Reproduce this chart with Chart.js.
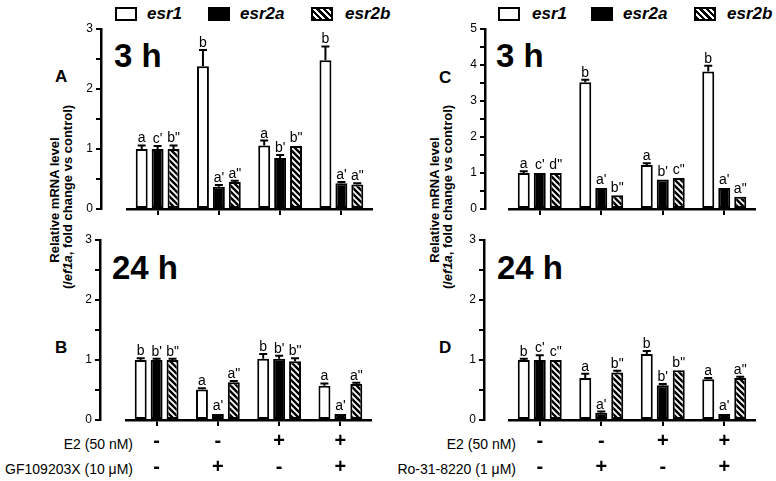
<!DOCTYPE html>
<html><head><meta charset="utf-8">
<script src="https://cdn.jsdelivr.net/npm/chart.js@4.4.1/dist/chart.umd.min.js"></script>
<style>
html,body{margin:0;padding:0;background:#fff;}
body{width:776px;height:481px;position:relative;overflow:hidden;font-family:'Liberation Sans',Arial,sans-serif;color:#000;}
.abs{position:absolute;white-space:nowrap;line-height:1;}
.box{position:absolute;box-sizing:border-box;border:2px solid #000;width:22px;height:14px;}
.leg{font-size:17px;font-weight:bold;font-style:italic;}
.big{font-size:33px;font-weight:bold;}
.let{font-size:17px;font-weight:bold;}
.yt{position:absolute;white-space:nowrap;line-height:1;font-size:13px;font-weight:bold;transform:translate(-50%,-50%) rotate(-90deg);}
.xl{font-size:14px;text-align:right;}
canvas{position:absolute;}
</style></head>
<body>
<!-- legends -->
<div class="box" style="left:115px;top:7px;background:#fff"></div>
<div class="abs leg" style="left:147px;top:5px">esr1</div>
<div class="box" style="left:208px;top:7px;background:#000"></div>
<div class="abs leg" style="left:240px;top:5px">esr2a</div>
<div class="box" style="left:311px;top:7px;background:repeating-linear-gradient(45deg,#000 0 2.5px,#fff 2.5px 4.5px)"></div>
<div class="abs leg" style="left:345px;top:5px">esr2b</div>

<div class="box" style="left:498px;top:7px;background:#fff"></div>
<div class="abs leg" style="left:532px;top:5px">esr1</div>
<div class="box" style="left:591px;top:7px;background:#000"></div>
<div class="abs leg" style="left:623px;top:5px">esr2a</div>
<div class="box" style="left:694px;top:7px;background:repeating-linear-gradient(45deg,#000 0 2.5px,#fff 2.5px 4.5px)"></div>
<div class="abs leg" style="left:727px;top:5px">esr2b</div>

<!-- titles -->
<div class="abs big" style="left:114px;top:39px">3 h</div>
<div class="abs big" style="left:496px;top:39px">3 h</div>
<div class="abs big" style="left:112px;top:251px">24 h</div>
<div class="abs big" style="left:497px;top:251px">24 h</div>
<div class="abs let" style="left:55px;top:68px">A</div>
<div class="abs let" style="left:55px;top:339px">B</div>
<div class="abs let" style="left:439px;top:69px">C</div>
<div class="abs let" style="left:439px;top:339px">D</div>

<div class="yt" style="left:54px;top:200px">Relative mRNA level</div>
<div class="yt" style="left:67px;top:197px">(/<i>ef1a</i>, fold change vs control)</div>
<div class="yt" style="left:434px;top:200px">Relative mRNA level</div>
<div class="yt" style="left:447px;top:197px">(/<i>ef1a</i>, fold change vs control)</div>

<div class="abs xl" style="right:643px;top:437px">E2 (50 nM)</div>
<div class="abs xl" style="right:643px;top:462px">GF109203X (10 μM)</div>
<div class="abs xl" style="right:260px;top:437px">E2 (50 nM)</div>
<div class="abs xl" style="right:260px;top:462px">Ro-31-8220 (1 μM)</div>

<canvas id="cA"></canvas>
<canvas id="cB"></canvas>
<canvas id="cC"></canvas>
<canvas id="cD"></canvas>

<script>
// ---------- data ----------
const seriesNames = ['esr1', 'esr2a', 'esr2b'];
const groups = ['Control', 'Inhibitor', 'E2', 'E2 + Inhibitor'];
const xTickLabels = [['-', '-'], ['-', '+'], ['+', '-'], ['+', '+']];

// Panel A: GF109203X, 3 h
const A_esr1 = [1.00, 2.38, 1.06, 2.48];
const A_esr2a = [1.00, 0.37, 0.85, 0.43];
const A_esr2b = [1.00, 0.45, 1.05, 0.41];
const A_err1 = [0.06, 0.27, 0.08, 0.23];
const A_err2a = [0.05, 0.03, 0.05, 0.02];
const A_err2b = [0.06, 0.02, 0.01, 0.02];
const A_let1 = ['a', 'b', 'a', 'b'];
const A_let2a = ["c'", "a'", "b'", "a'"];
const A_let2b = ['b"', 'a"', 'b"', 'a"'];

// Panel B: GF109203X, 24 h
const B_esr1 = [1.00, 0.51, 1.02, 0.57];
const B_esr2a = [1.00, 0.10, 1.02, 0.10];
const B_esr2b = [1.00, 0.63, 0.98, 0.60];
const B_err1 = [0.03, 0.02, 0.08, 0.04];
const B_err2a = [0.02, 0.01, 0.05, 0.01];
const B_err2b = [0.02, 0.02, 0.05, 0.02];
const B_let1 = ['b', 'a', 'b', 'a'];
const B_let2a = ["b'", "a'", "b'", "a'"];
const B_let2b = ['b"', 'a"', 'b"', 'a"'];

// Panel C: Ro-31-8220, 3 h
const C_esr1 = [1.00, 3.52, 1.22, 3.82];
const C_esr2a = [1.00, 0.58, 0.82, 0.58];
const C_esr2b = [1.00, 0.38, 0.86, 0.34];
const C_err1 = [0.05, 0.07, 0.05, 0.16];
const C_err2a = [0.02, 0.02, 0.02, 0.02];
const C_err2b = [0.02, 0.02, 0.02, 0.02];
const C_let1 = ['a', 'b', 'a', 'b'];
const C_let2a = ["c'", "a'", "b'", "a'"];
const C_let2b = ['d"', 'b"', 'c"', 'a"'];

// Panel D: Ro-31-8220, 24 h
const D_esr1 = [1.00, 0.70, 1.10, 0.68];
const D_esr2a = [1.00, 0.12, 0.58, 0.10];
const D_esr2b = [1.00, 0.79, 0.83, 0.70];
const D_err1 = [0.02, 0.07, 0.05, 0.02];
const D_err2a = [0.08, 0.02, 0.02, 0.01];
const D_err2b = [0.01, 0.03, 0.01, 0.02];
const D_let1 = ['b', 'a', 'b', 'a'];
const D_let2a = ["c'", "a'", "b'", "a'"];
const D_let2b = ['c"', 'b"', 'b"', 'a"'];

// ---------- rendering ----------
const FONT = "'Liberation Sans', Arial, sans-serif";
Chart.defaults.font.family = FONT;
Chart.defaults.color = '#000';

function hatch() {
  const s = 6, c = document.createElement('canvas');
  c.width = s; c.height = s;
  const g = c.getContext('2d');
  g.fillStyle = '#000'; g.fillRect(0, 0, s, s);
  g.strokeStyle = '#fff'; g.lineWidth = 1.8;
  g.beginPath();
  g.moveTo(-1, -1); g.lineTo(s + 1, s + 1);
  g.moveTo(-1, s - 1); g.lineTo(1, s + 1);
  g.moveTo(s - 1, -1); g.lineTo(s + 1, 1);
  g.stroke();
  return c;
}

function errPlugin(errs, lets) {
  return {
    id: 'errs',
    afterDatasetsDraw(chart) {
      const ctx = chart.ctx, ys = chart.scales.y;
      chart.data.datasets.forEach((ds, di) => {
        const meta = chart.getDatasetMeta(di);
        meta.data.forEach((bar, i) => {
          const v = ds.data[i], e = errs[di][i];
          const yTop = ys.getPixelForValue(v + e);
          ctx.save();
          ctx.strokeStyle = '#000'; ctx.lineWidth = 2;
          if (yTop < bar.y - 1) {
            ctx.beginPath();
            ctx.moveTo(bar.x, bar.y); ctx.lineTo(bar.x, yTop);
            ctx.moveTo(bar.x - 4, yTop); ctx.lineTo(bar.x + 4, yTop);
            ctx.stroke();
          }
          ctx.fillStyle = '#000';
          ctx.font = '14px ' + FONT;
          ctx.textAlign = 'center'; ctx.textBaseline = 'alphabetic';
          ctx.fillText(lets[di][i], bar.x, Math.min(yTop, bar.y) - 3);
          ctx.restore();
        });
      });
    }
  };
}

function makePanel(id, geo, vals, errs, lets, ymax, showX) {
  const cv = document.getElementById(id);
  const yW = 30, padTop = 12, padRight = 4;
  const xH = showX ? 61 : 12;
  const left = geo.L - geo.gap - yW;
  const w = geo.R - left + padRight;
  const h = (geo.B - geo.T) + padTop + xH;
  cv.width = w; cv.height = h;
  cv.style.left = left + 'px'; cv.style.top = (geo.T - padTop) + 'px';
  cv.style.width = w + 'px'; cv.style.height = h + 'px';
  const pat = cv.getContext('2d').createPattern(hatch(), 'repeat');
  const fills = ['#fff', '#000', pat];
  new Chart(cv, {
    type: 'bar',
    data: {
      labels: showX ? xTickLabels : groups,
      datasets: seriesNames.map((n, k) => ({
        label: n, data: vals[k], backgroundColor: fills[k],
        borderColor: '#000', borderWidth: 2, borderSkipped: false,
        categoryPercentage: 0.78, barPercentage: 0.75
      }))
    },
    options: {
      responsive: false, animation: false, devicePixelRatio: 1,
      layout: { padding: { top: padTop, right: padRight, left: 0, bottom: 0 } },
      plugins: { legend: { display: false }, tooltip: { enabled: false } },
      scales: {
        x: {
          offset: true,
          grid: { display: true, drawOnChartArea: false, drawTicks: true, tickLength: 6, lineWidth: 2, color: '#000', offset: false },
          border: { display: true, color: '#000', width: 2.5 },
          ticks: { display: showX, autoSkip: false, maxRotation: 0, padding: 2,
                   font: { size: 20, weight: 'bold', lineHeight: 1.3 }, color: '#000' },
          afterFit(s) { s.height = xH; }
        },
        y: {
          position: 'left', weight: 1, min: 0, max: ymax,
          grid: { display: true, drawOnChartArea: false, drawTicks: true, tickLength: 5, lineWidth: 2, color: '#000' },
          border: { display: true, color: '#000', width: 2.5 },
          ticks: { stepSize: 0.5, padding: 3, font: { size: 12 }, color: '#000',
                   callback: v => Number.isInteger(v) ? String(v) : '' },
          afterFit(s) { s.width = yW; }
        },
        sp: {
          type: 'linear', position: 'left', weight: 0, display: true,
          grid: { display: false }, border: { display: false }, ticks: { display: false },
          afterFit(s) { s.width = geo.gap; }
        }
      }
    },
    plugins: [errPlugin(errs, lets)]
  });
}

makePanel('cA', { L: 127, R: 372, T: 29, B: 209, gap: 26 },
  [A_esr1, A_esr2a, A_esr2b], [A_err1, A_err2a, A_err2b], [A_let1, A_let2a, A_let2b], 3, false);
makePanel('cB', { L: 126, R: 371, T: 240, B: 420, gap: 26 },
  [B_esr1, B_esr2a, B_esr2b], [B_err1, B_err2a, B_err2b], [B_let1, B_let2a, B_let2b], 3, true);
makePanel('cC', { L: 509, R: 755, T: 29, B: 209, gap: 24 },
  [C_esr1, C_esr2a, C_esr2b], [C_err1, C_err2a, C_err2b], [C_let1, C_let2a, C_let2b], 5, false);
makePanel('cD', { L: 509, R: 755, T: 240, B: 420, gap: 25 },
  [D_esr1, D_esr2a, D_esr2b], [D_err1, D_err2a, D_err2b], [D_let1, D_let2a, D_let2b], 3, true);
</script>
</body></html>
